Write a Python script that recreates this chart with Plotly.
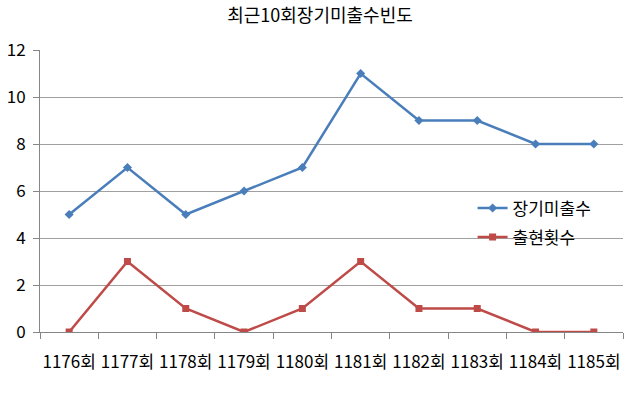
import plotly.graph_objects as go

categories = ["1176회", "1177회", "1178회", "1179회", "1180회", "1181회", "1182회", "1183회", "1184회", "1185회"]
missing = [5, 7, 5, 6, 7, 11, 9, 9, 8, 8]
appear = [0, 3, 1, 0, 1, 3, 1, 1, 0, 0]

FONT = "Noto Sans CJK KR"

fig = go.Figure()
fig.add_trace(go.Scatter(x=categories, y=missing, name="장기미출수", mode="lines+markers",
                         legendgroup="a",
                         line=dict(color="#4a7ebb", width=2.5),
                         marker=dict(symbol="diamond", size=7, color="#4a7ebb")))
fig.add_trace(go.Scatter(x=categories, y=appear, name="출현횟수", mode="lines+markers",
                         legendgroup="b",
                         line=dict(color="#be4b48", width=2.5),
                         marker=dict(symbol="square", size=7, color="#be4b48")))

fig.update_layout(
    width=640, height=398,
    margin=dict(l=40, r=17, t=50, b=66),
    paper_bgcolor="white", plot_bgcolor="white",
    font=dict(family=FONT, size=16, color="#000000"),
    title=dict(text="최근10회장기미출수빈도", x=0.5, xanchor="center", y=1 - 16 / 398, yanchor="middle",
               font=dict(family=FONT, size=18, color="#000000")),
    legend=dict(x=0.742, y=0.502, xanchor="left", yanchor="top", bgcolor="rgba(0,0,0,0)",
                font=dict(family=FONT, size=17), tracegroupgap=4, itemwidth=30),
    xaxis=dict(type="category", range=[-0.5, 9.5], showgrid=False,
               showline=True, linecolor="#868686", linewidth=1,
               ticks="outside", tickson="boundaries", ticklen=6, tickcolor="#868686",
               ticklabelstandoff=15, tickangle=0, automargin=False,
               tickfont=dict(family=FONT, size=17), fixedrange=True),
    yaxis=dict(range=[0, 12], dtick=2, showgrid=True, gridcolor="#a0a0a0", gridwidth=1,
               showline=True, linecolor="#868686", linewidth=1,
               ticks="outside", ticklen=6, tickcolor="#868686",
               ticklabelstandoff=4, automargin=False,
               tickfont=dict(family=FONT, size=17), zeroline=False),
)

fig.write_html("out.html", config={"displayModeBar": False},
               post_script="document.body.style.margin='0';")
